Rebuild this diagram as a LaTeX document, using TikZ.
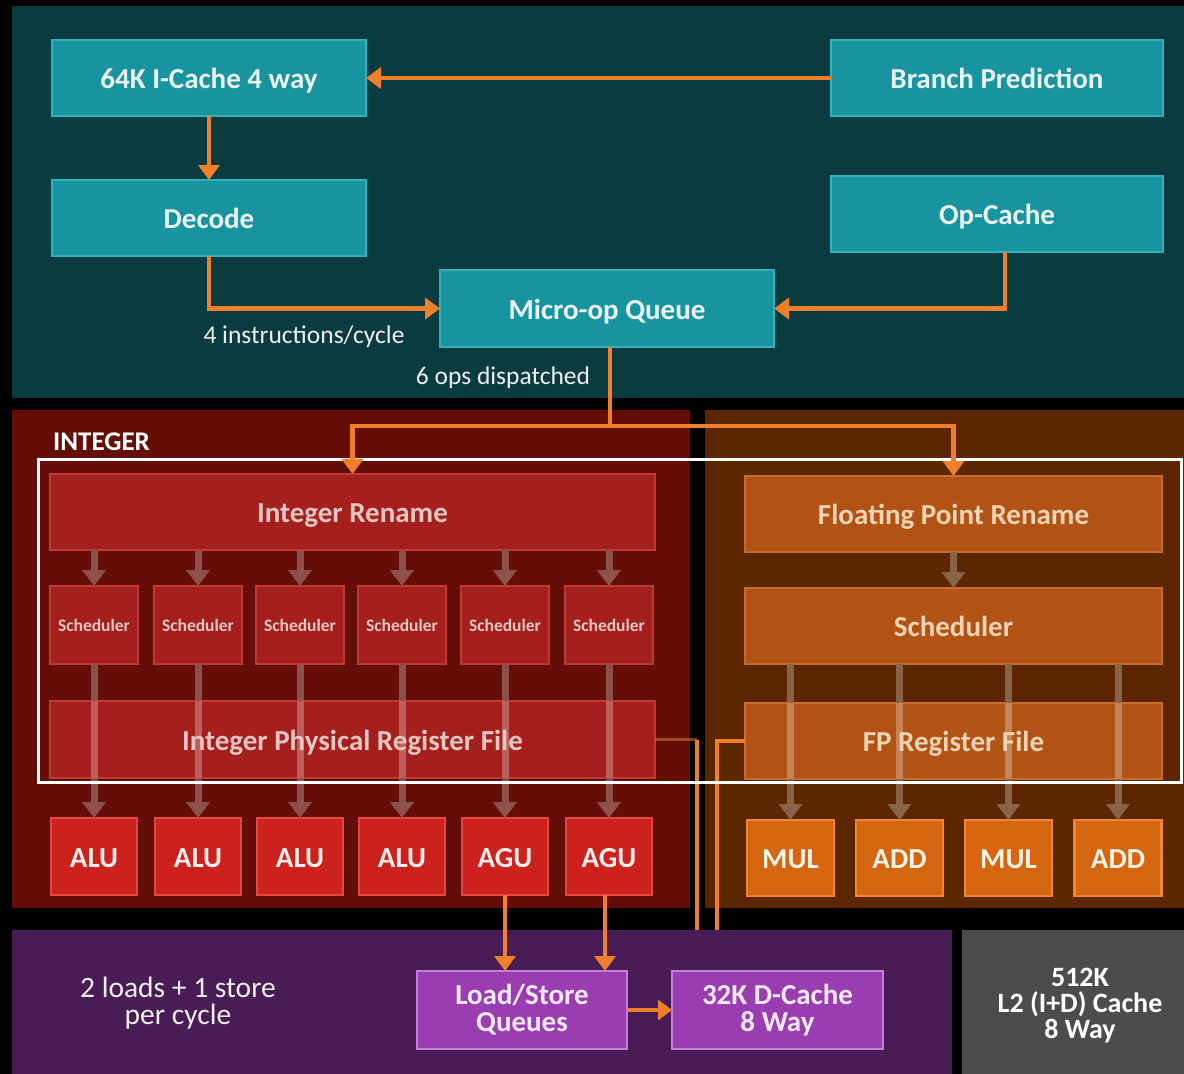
\documentclass[tikz,border=0pt]{standalone}
\usepackage{fontspec}
\setmainfont{Carlito}
\usetikzlibrary{arrows.meta}

\definecolor{bgteal}{HTML}{093B41}
\definecolor{tealfill}{HTML}{1794A0}
\definecolor{tealedge}{HTML}{2FB2BB}
\definecolor{tealtext}{HTML}{EAF4F2}
\definecolor{intpanel}{HTML}{650E08}
\definecolor{intfill}{HTML}{A61F1F}
\definecolor{intedge}{HTML}{BF3A36}
\definecolor{inttext}{HTML}{E6C6C0}
\definecolor{alufill}{HTML}{CC211D}
\definecolor{aluedge}{HTML}{E24842}
\definecolor{alutext}{HTML}{FFF0EE}
\definecolor{fppanel}{HTML}{5C2700}
\definecolor{fpfill}{HTML}{B05314}
\definecolor{fpedge}{HTML}{C76E2E}
\definecolor{fptext}{HTML}{F2D3B4}
\definecolor{fpunitfill}{HTML}{D5650F}
\definecolor{fpunitedge}{HTML}{EE8838}
\definecolor{fpunittext}{HTML}{FFF3E6}
\definecolor{lspanel}{HTML}{4A1C55}
\definecolor{lsfill}{HTML}{9A3DB0}
\definecolor{lsedge}{HTML}{C57ED6}
\definecolor{lstext}{HTML}{F6E8F8}
\definecolor{l2gray}{HTML}{4C4C4C}
\definecolor{wire}{HTML}{F07F29}
% pale issue paths: on the cluster background and where they cross a box
\definecolor{intghost}{HTML}{8E504B}
\definecolor{intghostlit}{HTML}{BE5F5D}
\definecolor{fpghost}{HTML}{896347}
\definecolor{fpghostlit}{HTML}{C68356}

\tikzset{
  panel/.style={rectangle, inner sep=0pt, outer sep=0pt, draw=none},
  blk/.style={rectangle, inner sep=0pt, outer sep=0pt, line width=2.5pt,
    align=center, font=\bfseries\fontsize{29}{27}\selectfont},
  oneline/.style={text height=24pt, text depth=3pt},
  label only/.style={inner sep=0pt, align=center, oneline,
    font=\bfseries\fontsize{29}{27}\selectfont},
  tealbox/.style={blk, oneline, fill=tealfill, draw=tealedge, text=tealtext},
  intbox/.style={blk, oneline, fill=intfill, draw=intedge, text=inttext},
  schedbox/.style={blk, fill=intfill, draw=intedge, text=inttext,
    minimum width=88pt, minimum height=78pt,
    font=\bfseries\fontsize{17.5}{18}\selectfont},
  aluunit/.style={blk, oneline, fill=alufill, draw=aluedge, text=alutext,
    minimum width=86pt, minimum height=77pt},
  fpbox/.style={blk, oneline, fill=fpfill, draw=fpedge, text=fptext},
  fpunit/.style={blk, oneline, fill=fpunitfill, draw=fpunitedge, text=fpunittext,
    minimum width=87pt, minimum height=76pt},
  lsbox/.style={blk, fill=lsfill, draw=lsedge, text=lstext,
    minimum width=210pt, minimum height=78pt},
  note/.style={inner sep=0pt, align=center, text=white!88!gray,
    font=\fontsize{25.5}{27}\selectfont},
  oline/.style={draw=wire, line width=4.5pt},
  oarrow/.style={oline, -{Triangle[width=21pt,length=15pt]}},
  thinwire/.style={draw=wire, line width=3.5pt},
  ghost/.style={line width=7pt, -{Triangle[width=23pt,length=16pt]}},
  ghostlit/.style={line width=7pt},
}

\begin{document}
\begin{tikzpicture}[x=1pt, y=-1pt]
  \useasboundingbox (0,0) rectangle (1184,1074);
  \fill[black] (0,0) rectangle (1184,1074);

  % background areas
  \node[panel, fill=bgteal, minimum width=1172pt, minimum height=392pt] (front) at (598,202) {};
  \node[panel, fill=intpanel, minimum width=678pt, minimum height=498pt] (intarea) at (351,659) {};
  \node[panel, fill=fppanel, minimum width=479pt, minimum height=498pt] (fparea) at (944.5,659) {};
  \node[panel, fill=lspanel, minimum width=940pt, minimum height=144pt] (lsarea) at (482,1002) {};
  \node[panel, fill=l2gray, minimum width=222pt, minimum height=144pt] (l2) at (1073,1002) {};

  % front end
  \node[tealbox, minimum width=314pt, minimum height=76pt] (icache) at (209,78) {64K I-Cache 4 way};
  \node[tealbox, minimum width=332pt, minimum height=76pt] (bp) at (997,78) {Branch Prediction};
  \node[tealbox, minimum width=314pt, minimum height=76pt] (decode) at (209,218) {Decode};
  \node[tealbox, minimum width=332pt, minimum height=76pt] (opcache) at (997,214) {Op-Cache};
  \node[tealbox, minimum width=334pt, minimum height=77pt] (uop) at (607,308.5) {Micro-op Queue};

  \draw[oarrow] (bp.west) -- (icache.east);
  \draw[oarrow] (icache.south) -- (decode.north);
  \draw[oarrow] (decode.south) |- (uop.west);
  \draw[oarrow] ([xshift=8pt]opcache.south) |- (uop.east);

  \node[note] (ipc) at (304,337) {4 instructions/cycle};
  \node[note] (dispatch) at (503,378) {6 ops dispatched};

  % integer cluster
  \node[anchor=west, inner sep=0pt, text=white, font=\bfseries\fontsize{27}{29}\selectfont] (intlabel) at (53,442) {INTEGER};
  \node[intbox, minimum width=605pt, minimum height=76pt] (intren) at (352.5,512) {Integer Rename};
  \node[intbox, minimum width=605pt, minimum height=77pt] (intprf) at (352.5,739.5) {};
  \foreach \i/\x in {1/94, 2/198, 3/300, 4/402, 5/505, 6/609}
    \node[schedbox] (s\i) at (\x,625) {Scheduler};
  \foreach \i/\x/\t in {1/94/ALU, 2/198/ALU, 3/300/ALU, 4/402/ALU, 5/505/AGU, 6/609/AGU}
    \node[aluunit] (u\i) at (\x,856.5) {\t};
  \foreach \i in {1,...,6} {
    \draw[ghost, draw=intghost, fill=intghost] (intren.south -| s\i) -- (s\i.north);
    \draw[ghost, draw=intghost, fill=intghost] (s\i.south) -- (u\i.north);
    \draw[ghostlit, draw=intghostlit] (intprf.north -| s\i) -- (intprf.south -| s\i);
  }
  \node[label only, text=inttext] (intprftext) at (intprf.center) {Integer Physical Register File};

  % floating point cluster
  \node[fpbox, minimum width=417pt, minimum height=76pt] (fpren) at (953.5,514) {Floating Point Rename};
  \node[fpbox, minimum width=417pt, minimum height=76pt] (fpsched) at (953.5,626) {Scheduler};
  \node[fpbox, minimum width=417pt, minimum height=76pt] (fprf) at (953.5,741) {};
  \foreach \i/\x/\t in {1/790.5/MUL, 2/899.5/ADD, 3/1008.5/MUL, 4/1118/ADD}
    \node[fpunit] (f\i) at (\x,858) {\t};
  \draw[ghost, draw=fpghost, fill=fpghost] (fpren.south) -- (fpsched.north);
  \foreach \i in {1,...,4} {
    \draw[ghost, draw=fpghost, fill=fpghost] (fpsched.south -| f\i) -- (f\i.north);
    \draw[ghostlit, draw=fpghostlit] (fprf.north -| f\i) -- (fprf.south -| f\i);
  }
  \node[label only, text=fptext] (fprftext) at (fprf.center) {FP Register File};

  % register files to the data cache
  \coordinate (intbus) at (697,930);
  \coordinate (fpbus) at (717,930);
  \draw[thinwire, draw opacity=0.5] (intprf.east) -- (intprf.east -| intbus);
  \draw[thinwire] (intprf.east -| intbus) -- (intbus);
  \draw[thinwire] (fprf.west) -| (fpbus);

  % scheduling window outline
  \draw[white, line width=3pt] (38,459) rectangle (1181,782);

  % dispatch from the micro-op queue
  \coordinate (split) at (610,426);
  \draw[oline] (uop.south -| split) -- (split);
  \draw[oarrow] (split) -| (intren.north);
  \draw[oarrow] (split) -| (fpren.north);

  % load / store
  \node[lsbox] (lsq) at (522,1010) {Load/Store\\Queues};
  \node[lsbox, minimum width=211pt] (dcache) at (777.5,1010) {32K D-Cache\\8 Way};
  \draw[oarrow] (u5.south) -- (u5.south |- lsq.north);
  \draw[oarrow] ([xshift=-4pt]u6.south) -- ([xshift=-4pt]u6.south |- lsq.north);
  \draw[oline, -{Triangle[width=20pt,length=14pt]}] (lsq.east) -- (dcache.west);

  \node[note, font=\fontsize{29.5}{27}\selectfont] (ldst) at (178,1003) {2 loads + 1 store\\per cycle};
  \node[inner sep=0pt, align=center, text=white, font=\bfseries\fontsize{28}{26}\selectfont] (l2text) at (1080,1006) {512K\\L2 (I+D) Cache\\8 Way};
\end{tikzpicture}
\end{document}
